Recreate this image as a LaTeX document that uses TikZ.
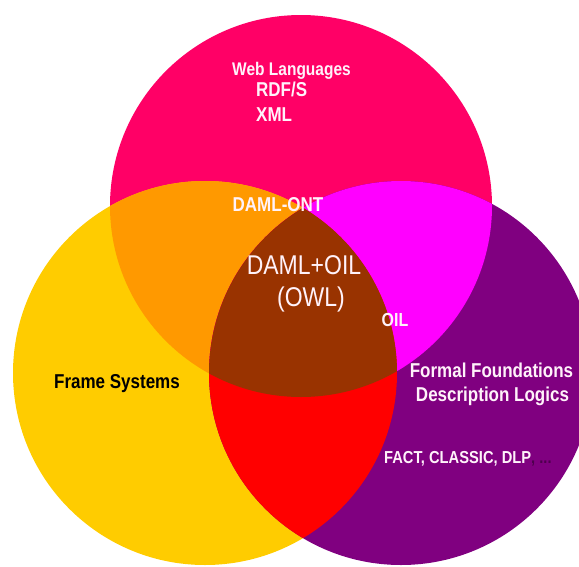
\documentclass[tikz,border=0pt]{standalone}
\usepackage{fontspec}
\setmainfont{Liberation Sans}
\definecolor{pinkc}{RGB}{255,0,102}
\definecolor{yellowc}{RGB}{255,204,0}
\definecolor{purplec}{RGB}{128,0,128}
\definecolor{orangec}{RGB}{255,153,0}
\definecolor{magentac}{RGB}{255,0,255}
\definecolor{redc}{RGB}{255,0,0}
\definecolor{brownc}{RGB}{153,51,0}
\definecolor{txtc}{RGB}{255,242,250}
\newcommand{\tallt}[1]{\scalebox{1}[1.18]{#1}}
\begin{document}
\begin{tikzpicture}[x=1pt,y=-1pt,
  lbl/.style={text=txtc,font=\bfseries\fontsize{17}{17}\selectfont,inner sep=0pt},
  big/.style={text=txtc,font=\fontsize{23}{23}\selectfont,inner sep=0pt}]
\useasboundingbox (0,0) rectangle (579,566);
\clip (0,0) rectangle (579,566);
\def\cP{(301,206) circle (191)}
\def\cY{(205,373) circle (192)}
\def\cU{(401,373) circle (192)}
\fill[pinkc] \cP;
\fill[yellowc] \cY;
\fill[purplec] \cU;
\begin{scope}\clip \cP; \fill[orangec] \cY; \end{scope}
\begin{scope}\clip \cP; \fill[magentac] \cU; \end{scope}
\begin{scope}\clip \cY; \fill[redc] \cU; \end{scope}
\begin{scope}\clip \cP; \clip \cY; \fill[brownc] \cU; \end{scope}
\node[lbl,font=\bfseries\fontsize{15.5}{15.5}\selectfont] (web) at (291.5,71) {\tallt{Web Languages}};
\node[lbl,anchor=west] (rdf) at (256,89) {\tallt{RDF/S}};
\node[lbl,anchor=west] (xml) at (256,115) {\tallt{XML}};
\node[lbl] (ont) at (278,205) {\tallt{DAML-ONT}};
\node[big] (owl1) at (304,265) {\tallt{DAML+OIL}};
\node[big] (owl2) at (311,299) {\tallt{(OWL)}};
\node[lbl,font=\bfseries\fontsize{16}{16}\selectfont] (oil) at (395,320) {\tallt{OIL}};
\node[lbl,text=black] (frame) at (117,384) {\tallt{Frame Systems}};
\node[lbl] (ff) at (491.5,370) {\tallt{Formal Foundations}};
\node[lbl] (dl) at (492.5,396) {\tallt{Description Logics}};
\node[lbl,anchor=west,font=\bfseries\fontsize{14.7}{14.7}\selectfont] (fact) at (384,459) {\tallt{FACT, CLASSIC, DLP\textcolor{purplec!60!black}{ , ...}}};
\end{tikzpicture}
\end{document}
